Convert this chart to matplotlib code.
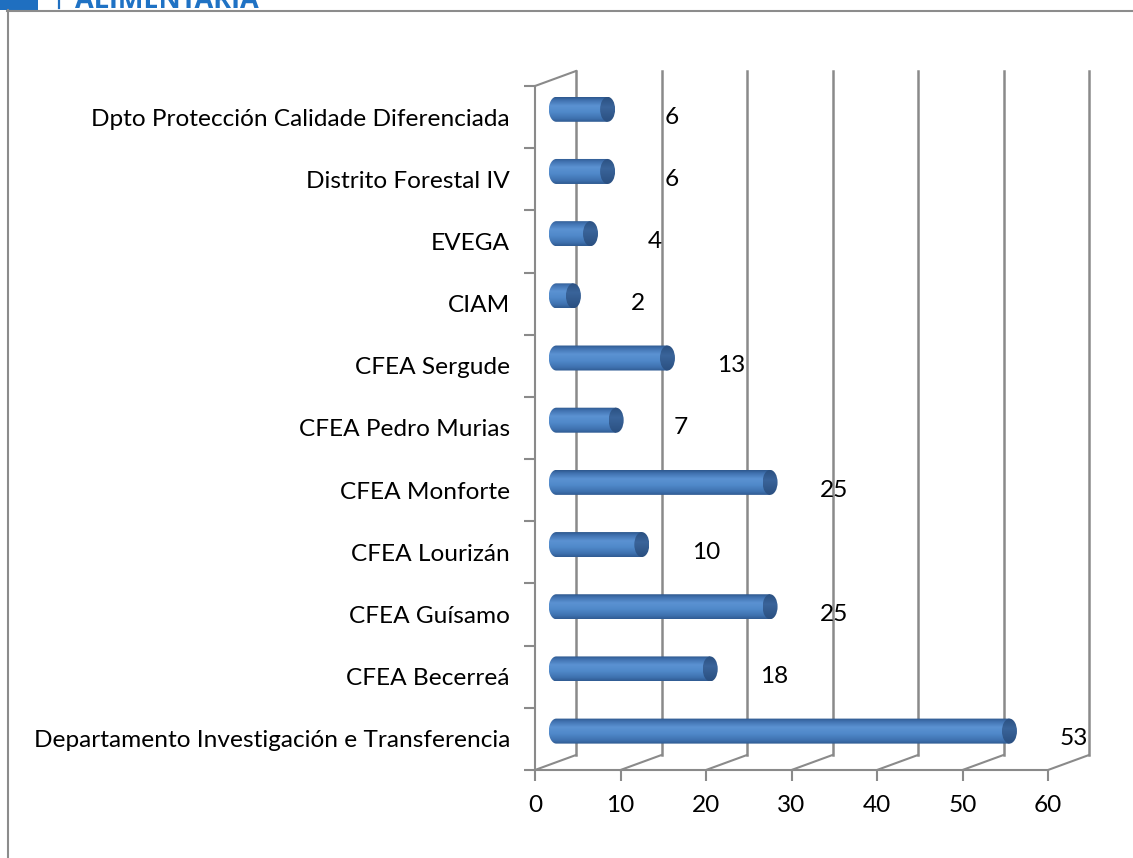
import numpy as np
import matplotlib
matplotlib.use("Agg")
import matplotlib.pyplot as plt
from matplotlib.path import Path
from matplotlib.patches import PathPatch, Ellipse, Rectangle
from matplotlib.lines import Line2D
from matplotlib.colors import LinearSegmentedColormap

# ---------------- data ----------------
categories = [
    "Departamento Investigación e Transferencia",
    "CFEA Becerreá",
    "CFEA Guísamo",
    "CFEA Lourizán",
    "CFEA Monforte",
    "CFEA Pedro Murias",
    "CFEA Sergude",
    "CIAM",
    "EVEGA",
    "Distrito Forestal IV",
    "Dpto Protección Calidade Diferenciada",
]
values = [53, 18, 25, 10, 25, 7, 13, 2, 4, 6, 6]
x_ticks = [0, 10, 20, 30, 40, 50, 60]
header_text = "ALIMENTARIA"

# ---------------- style ----------------
W, H = 1133, 858
FONT = "Lato"
FS = 17.6
GRID = "#8a8a8a"
plt.rcParams["font.family"] = [FONT, "DejaVu Sans"]

fig = plt.figure(figsize=(W / 100, H / 100), dpi=100)

def fx(x):
    return x / W

def fy(y):
    return 1 - y / H

# page decoration (header cut at top, as in the source page)
fig.add_artist(Rectangle((fx(0), fy(10)), fx(38), 10 / H, transform=fig.transFigure,
                         color="#1f6fc0", lw=0))
fig.add_artist(Line2D([fx(59), fx(59)], [fy(0), fy(8)], transform=fig.transFigure,
                      color="#1f6fc0", lw=1.6))
fig.text(fx(75), fy(8), header_text, transform=fig.transFigure, fontsize=19.5,
         fontweight="bold", color="#1f72c4", ha="left", va="baseline",
         family=["Open Sans", "DejaVu Sans"])
fig.add_artist(Line2D([fx(7), fx(1133)], [fy(10.5), fy(10.5)], transform=fig.transFigure,
                      color="#8c8c8c", lw=1.5))
fig.add_artist(Line2D([fx(7.5), fx(7.5)], [fy(10), fy(858)], transform=fig.transFigure,
                      color="#8c8c8c", lw=1.5))

# ---------------- axes (front plane) ----------------
x0_px, x1_px, ytop_px, ybot_px = 535, 1048, 86, 770
ax = fig.add_axes([fx(x0_px), fy(ybot_px), (x1_px - x0_px) / W, (ybot_px - ytop_px) / H])
n = len(categories)
XMAX = x_ticks[-1]
ax.set_xlim(0, XMAX)
ax.set_ylim(-0.5, n - 0.5)
ax.patch.set_alpha(0)

px_per_x = (x1_px - x0_px) / XMAX
px_per_y = (ybot_px - ytop_px) / n
DX = 41 / px_per_x     # depth offset in data units
DY = 15 / px_per_y

for s in ["top", "right"]:
    ax.spines[s].set_visible(False)
for s in ["left", "bottom"]:
    ax.spines[s].set_color(GRID)
    ax.spines[s].set_linewidth(1.5)

ax.set_xticks(x_ticks)
ax.set_xticklabels([str(t) for t in x_ticks], fontsize=FS)
ax.set_yticks(np.arange(n))
ax.set_yticklabels(categories, fontsize=FS)
ax.set_yticks(np.arange(-0.5, n, 1.0), minor=True)
ax.tick_params(axis="y", which="major", length=0, pad=18)
ax.tick_params(axis="y", which="minor", length=8, width=1.5, color=GRID)
ax.tick_params(axis="x", which="major", length=8, width=1.5, color=GRID, pad=10)

# back wall gridlines and floor diagonals
ybot, ytop = -0.5, n - 0.5
for t in x_ticks:
    ax.plot([t, t + DX], [ybot, ybot + DY], color=GRID, lw=1.5, clip_on=False, zorder=1)
    ax.plot([t + DX, t + DX], [ybot + DY, ytop + DY], color=GRID, lw=1.8,
            clip_on=False, zorder=1)
ax.plot([0, DX], [ytop, ytop + DY], color=GRID, lw=1.5, clip_on=False, zorder=1)

# ---------------- cylinders ----------------
cmap = LinearSegmentedColormap.from_list(
    "cyl", [(0.0, "#2d568c"), (0.12, "#3f70ae"), (0.35, "#5b92d2"),
            (0.6, "#5089ca"), (0.85, "#3f72b0"), (1.0, "#2f5a91")])
grad = np.linspace(0, 1, 256).reshape(-1, 1)
cap_cmap = LinearSegmentedColormap.from_list(
    "cap", [(0.0, "#2a4f80"), (0.4, "#3a649a"), (1.0, "#2a4f80")])

f = 0.52
half_h = 12.5 / px_per_y
cap_a = 7.5 / px_per_x

for i, v in enumerate(values):
    yc = i + DY * f
    xs = DX * f
    xe = xs + v
    yb, yt = yc - half_h, yc + half_h
    # body + rounded left end
    theta = np.linspace(np.pi / 2, 3 * np.pi / 2, 40)
    ell_x = xs + cap_a * np.cos(theta)
    ell_y = yc + half_h * np.sin(theta)
    verts = [(xs, yt), (xe, yt), (xe, yb), (xs, yb)]
    verts += list(zip(ell_x[::-1], ell_y[::-1]))
    verts.append((xs, yt))
    codes = [Path.MOVETO] + [Path.LINETO] * (len(verts) - 2) + [Path.CLOSEPOLY]
    body = PathPatch(Path(verts, codes), facecolor="none", edgecolor="none", zorder=3)
    ax.add_patch(body)
    im = ax.imshow(grad, cmap=cmap, aspect="auto", origin="upper",
                   extent=(xs - cap_a, xe, yb, yt), zorder=3, interpolation="bilinear")
    im.set_clip_path(body)
    # end cap
    cap = Ellipse((xe, yc), 2 * cap_a, 2 * half_h, facecolor="none",
                  edgecolor="none", zorder=4)
    ax.add_patch(cap)
    imc = ax.imshow(grad, cmap=cap_cmap, aspect="auto", origin="upper",
                    extent=(xe - cap_a, xe + cap_a, yb, yt), zorder=4,
                    interpolation="bilinear")
    imc.set_clip_path(cap)
    # data label
    ax.text(v + 10, i, str(v), fontsize=FS, ha="center", va="center",
            color="black", zorder=6)

ax.set_xlim(0, XMAX)
ax.set_ylim(-0.5, n - 0.5)

fig.savefig("out.png", dpi=100)
